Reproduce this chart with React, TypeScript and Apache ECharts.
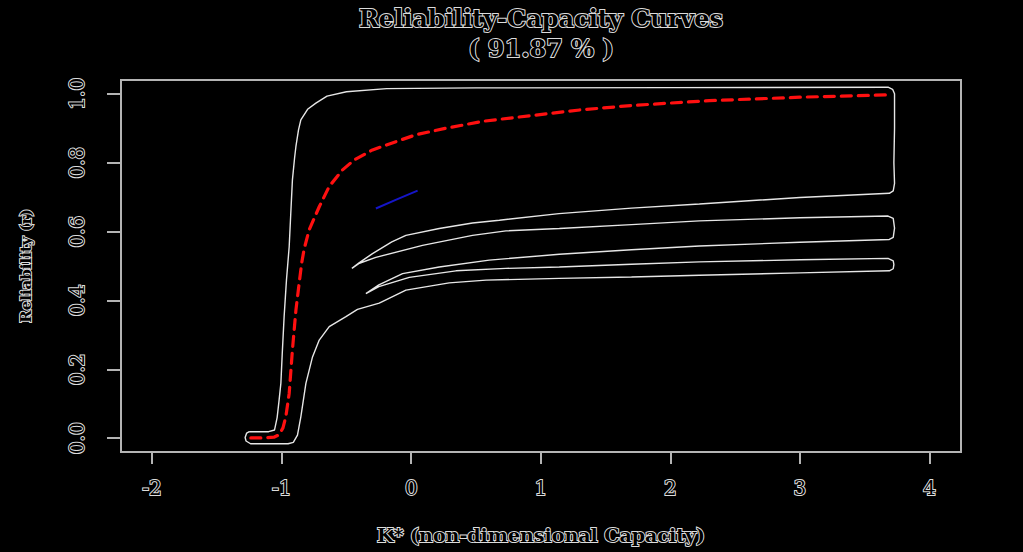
import React, { useEffect, useRef } from "react";
import * as echarts from "echarts";

const titleLines = ["Reliability-Capacity Curves", "( 91.87 % )"];
const xAxisName = "K* (non-dimensional Capacity)";
const yAxisName = "Reliability (r)";
const xTicks = [-2, -1, 0, 1, 2, 3, 4];
const yTicks = [0, 0.2, 0.4, 0.6, 0.8, 1.0];

// white envelope outline (one continuous contour)
const envelopeOutline: [number, number][] = [
  [-1.25, 0.019], [-1.1, 0.019], [-1.055, 0.024], [-1.035, 0.06], [-1.02, 0.11],
  [-1.006, 0.16], [-0.995, 0.25], [-0.981, 0.353], [-0.963, 0.459], [-0.942, 0.556],
  [-0.93, 0.65], [-0.917, 0.75], [-0.9, 0.815], [-0.89, 0.847], [-0.87, 0.895],
  [-0.852, 0.924], [-0.8, 0.955], [-0.736, 0.973], [-0.65, 0.993], [-0.5, 1.006],
  [-0.19, 1.015], [0.5, 1.017], [2.0, 1.018], [3.68, 1.019], [3.715, 1.013],
  [3.73, 1.0], [3.73, 0.9], [3.725, 0.8], [3.73, 0.74], [3.72, 0.718], [3.69, 0.711],
  [3.0, 0.699], [2.224, 0.68], [1.7, 0.668], [1.14, 0.652], [0.68, 0.633],
  [0.473, 0.625], [0.216, 0.609], [-0.041, 0.589], [-0.15, 0.57], [-0.299, 0.536],
  [-0.4, 0.51], [-0.458, 0.493], [-0.4, 0.508], [-0.273, 0.525], [0.087, 0.56],
  [0.473, 0.589], [0.731, 0.602], [1.143, 0.609], [1.7, 0.62], [2.224, 0.631],
  [3.0, 0.64], [3.68, 0.645], [3.72, 0.638], [3.73, 0.61], [3.72, 0.583], [3.69, 0.577],
  [3.0, 0.569], [2.224, 0.558], [1.7, 0.547], [1.143, 0.534], [0.602, 0.517],
  [0.216, 0.497], [-0.067, 0.478], [-0.25, 0.445], [-0.35, 0.42], [-0.25, 0.44],
  [-0.015, 0.467], [0.345, 0.486], [0.731, 0.493], [1.143, 0.497], [1.7, 0.505],
  [2.224, 0.512], [3.0, 0.518], [3.68, 0.522], [3.72, 0.515], [3.725, 0.504],
  [3.72, 0.492], [3.69, 0.486], [3.0, 0.48], [2.224, 0.473], [1.7, 0.468],
  [1.143, 0.464], [0.577, 0.459], [0.293, 0.451], [-0.041, 0.43], [-0.247, 0.392],
  [-0.415, 0.374], [-0.504, 0.353], [-0.633, 0.324], [-0.71, 0.285], [-0.762, 0.236],
  [-0.813, 0.159], [-0.852, 0.062], [-0.878, 0.009], [-0.91, -0.012], [-0.95, -0.016],
  [-1.24, -0.016], [-1.275, -0.008], [-1.282, 0.002], [-1.27, 0.015], [-1.25, 0.019],
];

// red dashed mean curve
const meanCurve: [number, number][] = [
  [-1.238, 0.001], [-1.122, 0.001], [-1.06, 0.003], [-1.019, 0.01], [-0.99, 0.03],
  [-0.968, 0.062], [-0.942, 0.13], [-0.917, 0.256], [-0.89, 0.372], [-0.865, 0.45],
  [-0.845, 0.51], [-0.826, 0.55], [-0.788, 0.605], [-0.71, 0.672], [-0.633, 0.731],
  [-0.53, 0.779], [-0.44, 0.808], [-0.299, 0.837], [-0.118, 0.861], [0.036, 0.881],
  [0.268, 0.9], [0.551, 0.92], [0.911, 0.936], [1.3, 0.953], [1.7, 0.966],
  [2.3, 0.98], [3.0, 0.99], [3.68, 0.997],
];

// short blue curve
const observedCurve: [number, number][] = [
  [-0.273, 0.667], [-0.12, 0.692], [0.049, 0.719],
];

const outlineText = {
  color: "#000",
  textBorderColor: "#dcdcdc",
  textBorderWidth: 2,
  fontFamily: "DejaVu Serif",
};

const titleStyle = {
  fill: "#000",
  stroke: "#dcdcdc",
  lineWidth: 2,
  fontFamily: "DejaVu Serif",
  fontSize: 24,
  fontWeight: "bold",
  textAlign: "center",
  textVerticalAlign: "middle",
};

export default function App() {
  const ref = useRef<HTMLDivElement>(null);
  useEffect(() => {
    document.body.style.margin = "0";
    document.body.style.background = "#000";
    const chart = echarts.init(ref.current!, null, { renderer: "svg" });
    chart.setOption({
      animation: false,
      backgroundColor: "#000",
      grid: {
        left: 121,
        right: 62,
        top: 80,
        bottom: 100,
        show: true,
        borderColor: "#b4b4b4",
        borderWidth: 2,
        backgroundColor: "transparent",
      },
      graphic: [
        { type: "text", x: 541, y: 18, style: { text: titleLines[0], ...titleStyle } },
        { type: "text", x: 541, y: 48, style: { text: titleLines[1], ...titleStyle } },
      ],
      xAxis: {
        type: "value",
        min: -2.24,
        max: 4.243,
        name: xAxisName,
        nameLocation: "middle",
        nameGap: 73,
        nameTextStyle: { ...outlineText, fontSize: 19, fontWeight: "bold" },
        axisLine: { show: false, onZero: false },
        splitLine: { show: false },
        axisTick: {
          show: true,
          length: 12,
          customValues: xTicks,
          lineStyle: { color: "#b4b4b4", width: 2 },
        },
        axisLabel: {
          customValues: xTicks,
          margin: 26,
          ...outlineText,
          fontSize: 20,
          formatter: (v: number) => String(v),
        },
      },
      yAxis: {
        type: "value",
        min: -0.04,
        max: 1.04,
        name: yAxisName,
        nameLocation: "middle",
        nameGap: 88,
        nameRotate: 90,
        nameTextStyle: { ...outlineText, fontSize: 15, fontWeight: "bold" },
        axisLine: { show: false, onZero: false },
        splitLine: { show: false },
        axisTick: {
          show: true,
          length: 14,
          customValues: yTicks,
          lineStyle: { color: "#b4b4b4", width: 2 },
        },
        axisLabel: {
          customValues: yTicks,
          rotate: 90,
          margin: 34,
          ...outlineText,
          fontSize: 20,
          formatter: (v: number) => v.toFixed(1),
        },
      },
      series: [
        {
          type: "line",
          data: envelopeOutline,
          showSymbol: false,
          symbol: "none",
          lineStyle: { color: "#e6e6e6", width: 1.4 },
        },
        {
          type: "line",
          data: meanCurve,
          showSymbol: false,
          symbol: "none",
          lineStyle: { color: "#ff1010", width: 3.2, type: [10, 7], cap: "round" },
        },
        {
          type: "line",
          data: observedCurve,
          showSymbol: false,
          symbol: "none",
          lineStyle: { color: "#1515c8", width: 2 },
        },
      ],
    });
    return () => chart.dispose();
  }, []);
  return (
    <div
      ref={ref}
      style={{ position: "fixed", left: 0, top: 0, width: 1023, height: 552, background: "#000" }}
    />
  );
}
